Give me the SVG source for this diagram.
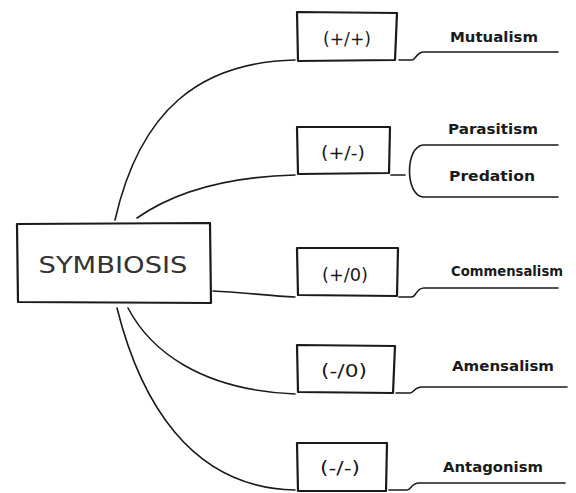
<svg xmlns="http://www.w3.org/2000/svg" width="576" height="493" viewBox="0 0 576 493">
<style>
.box{fill:none;stroke:#1a1a1a;stroke-width:2.2;stroke-linejoin:round}
.con{fill:none;stroke:#1a1a1a;stroke-width:1.6;stroke-linecap:round}
.rel{font-family:"DejaVu Sans","Liberation Sans",sans-serif;font-size:18px;fill:#1a1a1a;text-anchor:middle}
.lab{font-family:"DejaVu Sans","Liberation Sans",sans-serif;font-size:14px;font-weight:bold;fill:#1a1a1a;text-anchor:middle}
.main{font-family:"DejaVu Sans","Liberation Sans",sans-serif;font-size:23px;fill:#333;text-anchor:middle}
</style>
<rect width="576" height="493" fill="#fff"/>
<g id="connectors">
<path class="con" d="M115,220 C140,110 200,62 295,60"/>
<path class="con" d="M137,218 C170,195 220,177 295,175"/>
<path class="con" d="M213,291 C240,292 270,296 295,297"/>
<path class="con" d="M128,308 C150,350 200,390 295,394"/>
<path class="con" d="M117,308 C140,400 190,488 295,490"/>
<path class="con" d="M399,60 L412,60 C416,60 416,52 424,52 L558,52"/>
<path class="con" d="M391,175 L405,175"/>
<path class="con" d="M558,145 L423,145 C405,147 405,195 423,197 L558,197"/>
<path class="con" d="M399,297 L412,297 C416,297 416,288 424,288 L558,288"/>
<path class="con" d="M396,393 L410,393 C414,393 414,387 422,387 L567,387"/>
<path class="con" d="M389,490 L407,490 C411,490 411,483 419,483 L565,483"/>
</g>
<g id="symbiosis">
<path class="box" d="M17,224 L210,223 L211,303 L18,302 Z"/>
<text class="main" x="113" y="273" textLength="149" lengthAdjust="spacingAndGlyphs">SYMBIOSIS</text>
</g>
<g id="box-pp">
<path class="box" d="M297,12 L397,13 L395,60 L298,61 Z"/>
<text class="rel" x="347" y="45" textLength="48" lengthAdjust="spacingAndGlyphs">(+/+)</text>
</g>
<g id="box-pm">
<path class="box" d="M297,127 L390,127 L389,173 L298,174 Z"/>
<text class="rel" x="343" y="159" textLength="44" lengthAdjust="spacingAndGlyphs">(+/-)</text>
</g>
<g id="box-p0">
<path class="box" d="M297,248 L398,248 L397,296 L298,295 Z"/>
<text class="rel" x="345" y="281" textLength="46" lengthAdjust="spacingAndGlyphs">(+/0)</text>
</g>
<g id="box-m0">
<path class="box" d="M297,345 L395,346 L393,393 L298,392 Z"/>
<text class="rel" x="344" y="377" textLength="46" lengthAdjust="spacingAndGlyphs">(-/0)</text>
</g>
<g id="box-mm">
<path class="box" d="M297,443 L387,443 L386,491 L298,491 Z"/>
<text class="rel" x="340" y="474" textLength="40" lengthAdjust="spacingAndGlyphs">(-/-)</text>
</g>
<g id="mutualism"><text class="lab" x="494" y="42" textLength="88" lengthAdjust="spacingAndGlyphs">Mutualism</text></g>
<g id="parasitism"><text class="lab" x="493" y="134" textLength="90" lengthAdjust="spacingAndGlyphs">Parasitism</text></g>
<g id="predation"><text class="lab" x="492" y="181" textLength="86" lengthAdjust="spacingAndGlyphs">Predation</text></g>
<g id="commensalism"><text class="lab" x="507" y="276" textLength="112" lengthAdjust="spacingAndGlyphs">Commensalism</text></g>
<g id="amensalism"><text class="lab" x="503" y="371" textLength="102" lengthAdjust="spacingAndGlyphs">Amensalism</text></g>
<g id="antagonism"><text class="lab" x="493" y="472" textLength="100" lengthAdjust="spacingAndGlyphs">Antagonism</text></g>
</svg>
